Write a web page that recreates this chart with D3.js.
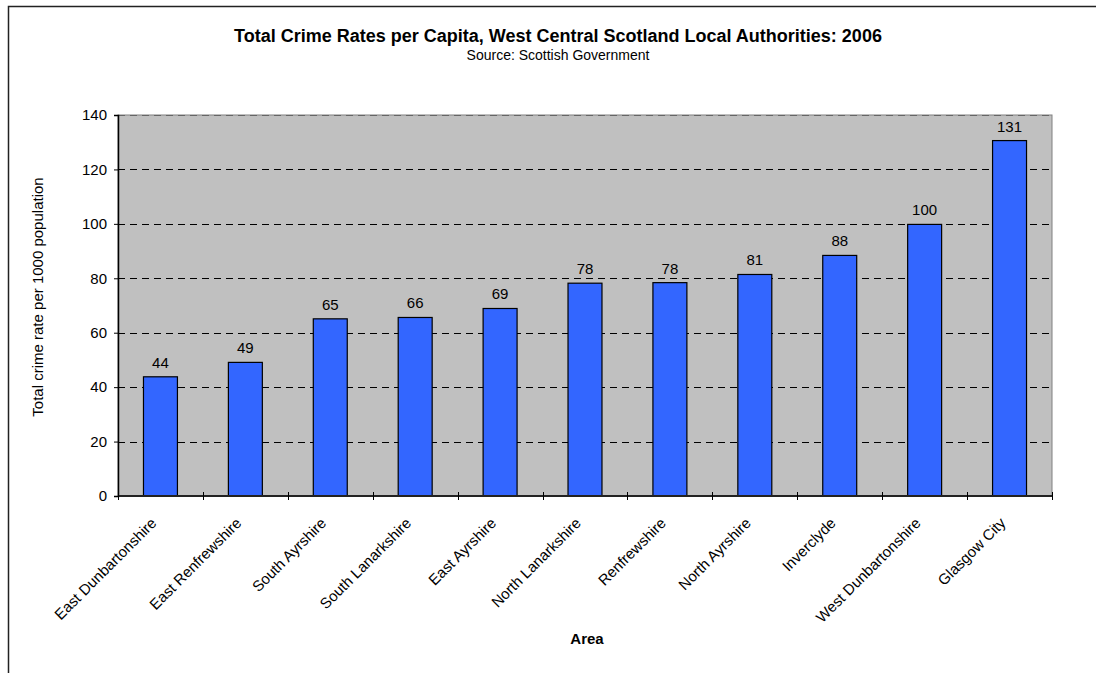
<!DOCTYPE html>
<html><head><meta charset="utf-8">
<script src="https://cdn.jsdelivr.net/npm/d3@7"></script>
<style>body{margin:0;background:#fff}svg{display:block}text{font-family:Arial,"Liberation Sans",sans-serif}</style>
</head><body>
<svg id="c" width="1096" height="673"></svg>
<script>
const categories = ["East Dunbartonshire","East Renfrewshire","South Ayrshire","South Lanarkshire","East Ayrshire","North Lanarkshire","Renfrewshire","North Ayrshire","Inverclyde","West Dunbartonshire","Glasgow City"];
const values = [44,49,65,66,69,78,78,81,88,100,131];
const barValues = [43.8,49.1,65.1,65.6,68.9,78.2,78.4,81.4,88.4,99.8,130.6];
const yTicks = [0,20,40,60,80,100,120,140];

const svg = d3.select("#c");
svg.append("rect").attr("x",8.5).attr("y",6.5).attr("width",1200).attr("height",800)
  .attr("fill","#fff").attr("stroke","#222").attr("stroke-width",1.5);

const L=118,R=1052,T=115,B=496;
const x = d3.scaleBand().domain(categories).range([L,R]).paddingInner(0.6).paddingOuter(0.3);
const xb = d3.scaleBand().domain(categories).range([L,R]);
const y = d3.scaleLinear().domain([0,140]).range([B,T]);

svg.append("rect").attr("x",L).attr("y",T).attr("width",R-L).attr("height",B-T)
  .attr("fill","#C0C0C0").attr("stroke","#808080").attr("stroke-width",1);

// gridlines
svg.append("g").selectAll("line").data(yTicks.filter(d=>d>0)).join("line")
  .attr("x1",L).attr("x2",R).attr("y1",d=>Math.round(y(d))+0.5).attr("y2",d=>Math.round(y(d))+0.5)
  .attr("stroke",d=>d===140?"#666":"#000").attr("stroke-dasharray","7,5").attr("stroke-width",1);

// bars
svg.append("g").selectAll("rect").data(categories).join("rect")
  .attr("x",d=>x(d)).attr("width",x.bandwidth())
  .attr("y",(d,i)=>y(barValues[i])).attr("height",(d,i)=>B-y(barValues[i]))
  .attr("fill","#3366FF").attr("stroke","#000").attr("stroke-width",1.2);

// value labels
svg.append("g").selectAll("text").data(categories).join("text")
  .attr("x",d=>x(d)+x.bandwidth()/2).attr("y",(d,i)=>y(barValues[i])-9)
  .attr("text-anchor","middle").attr("font-size",15).attr("fill","#000")
  .text((d,i)=>values[i]);

// y axis
const yAxis = d3.axisLeft(y).tickValues(yTicks).tickSize(4).tickPadding(7);
const gy = svg.append("g").attr("transform",`translate(${L},0)`).call(yAxis);
gy.select(".domain").attr("stroke","#000").attr("stroke-width",1.5);
gy.selectAll("text").attr("font-size",15).attr("font-family","Arial, Liberation Sans, sans-serif").attr("fill","#000");

// x axis line and ticks at band boundaries
svg.append("line").attr("x1",L).attr("x2",R).attr("y1",B).attr("y2",B).attr("stroke","#222").attr("stroke-width",2);
const bounds = categories.map(d=>xb(d)).concat([R]);
svg.append("g").selectAll("line").data(bounds).join("line")
  .attr("x1",d=>Math.round(d)+0.5).attr("x2",d=>Math.round(d)+0.5).attr("y1",B-4).attr("y2",B+4)
  .attr("stroke","#000");

// category labels
svg.append("g").selectAll("text").data(categories).join("text")
  .attr("transform",d=>`translate(${xb(d)+xb.bandwidth()/2-3},${B+28}) rotate(-45)`)
  .attr("text-anchor","end").attr("font-size",15).attr("fill","#000")
  .text(d=>d);

// titles
svg.append("text").attr("x",558).attr("y",42).attr("text-anchor","middle")
  .attr("font-size",18).attr("font-weight","bold").text("Total Crime Rates per Capita, West Central Scotland Local Authorities: 2006");
svg.append("text").attr("x",558).attr("y",60).attr("text-anchor","middle")
  .attr("font-size",14).text("Source: Scottish Government");
svg.append("text").attr("transform",`translate(43,297) rotate(-90)`).attr("text-anchor","middle")
  .attr("font-size",15).text("Total crime rate per 1000 population");
svg.append("text").attr("x",587).attr("y",644).attr("text-anchor","middle")
  .attr("font-size",15).attr("font-weight","bold").text("Area");
</script>
</body></html>
